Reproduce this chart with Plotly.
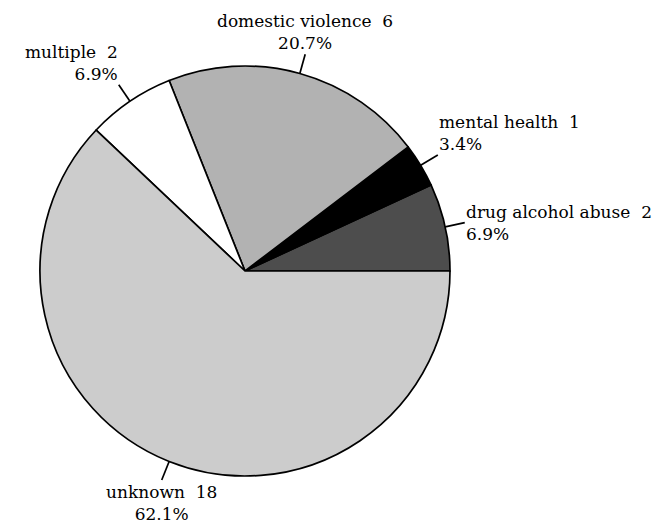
import math
import plotly.graph_objects as go

# Slice data, in drawing order (counterclockwise from 3 o'clock)
labels = ["drug alcohol abuse", "mental health", "domestic violence", "multiple", "unknown"]
counts = [2, 1, 6, 2, 18]
colors = ["#4d4d4d", "#000000", "#b2b2b2", "#ffffff", "#cccccc"]

W, H = 658, 529
CX, CY, R = 245, 271, 205          # pie centre and radius in pixels
LEADER = 20                        # leader line length in pixels
FONT = dict(family="DejaVu Serif", size=17, color="#000000")

total = sum(counts)

# Plotly's counterclockwise layout lays the first slice back from the rotation
# angle, so shift by the first slice to start it exactly at 3 o'clock.
rotation = 90 - 360.0 * counts[0] / total

fig = go.Figure(go.Pie(
    labels=labels,
    values=counts,
    marker=dict(colors=colors, line=dict(color="#000000", width=1.7)),
    sort=False,
    direction="counterclockwise",
    rotation=rotation,
    textinfo="none",
    hoverinfo="label+value+percent",
    showlegend=False,
    domain=dict(x=[(CX - R) / W, (CX + R) / W],
                y=[(H - CY - R) / H, (H - CY + R) / H]),
))


def to_paper(px, py):
    return px / W, 1 - py / H


start = 0.0
shapes, annotations = [], []
for name, n in zip(labels, counts):
    sweep = 360.0 * n / total
    mid = math.radians(start + sweep / 2)
    start += sweep
    c, s = math.cos(mid), math.sin(mid)
    x0, y0 = to_paper(CX + R * c, CY - R * s)
    x1, y1 = to_paper(CX + (R + LEADER) * c, CY - (R + LEADER) * s)
    shapes.append(dict(type="line", xref="paper", yref="paper",
                       x0=x0, y0=y0, x1=x1, y1=y1,
                       line=dict(color="#000000", width=1.7)))
    xanchor = "left" if c > 0.5 else ("right" if c < -0.5 else "center")
    yanchor = "bottom" if s > 0.35 else ("top" if s < -0.35 else "middle")
    pct = 100.0 * n / total
    annotations.append(dict(
        xref="paper", yref="paper", x=x1, y=y1,
        xanchor=xanchor, yanchor=yanchor,
        align=xanchor,
        text=f"{name}\u00a0 {n}<br>{pct:.1f}%",
        showarrow=False, font=FONT, borderpad=0,
        yshift=0 if yanchor == "bottom" else (-1 if yanchor == "top" else 0),
    ))

fig.update_layout(
    width=W, height=H,
    margin=dict(l=0, r=0, t=0, b=0),
    paper_bgcolor="#ffffff",
    plot_bgcolor="#ffffff",
    shapes=shapes,
    annotations=annotations,
)

fig.write_html("out.html")
